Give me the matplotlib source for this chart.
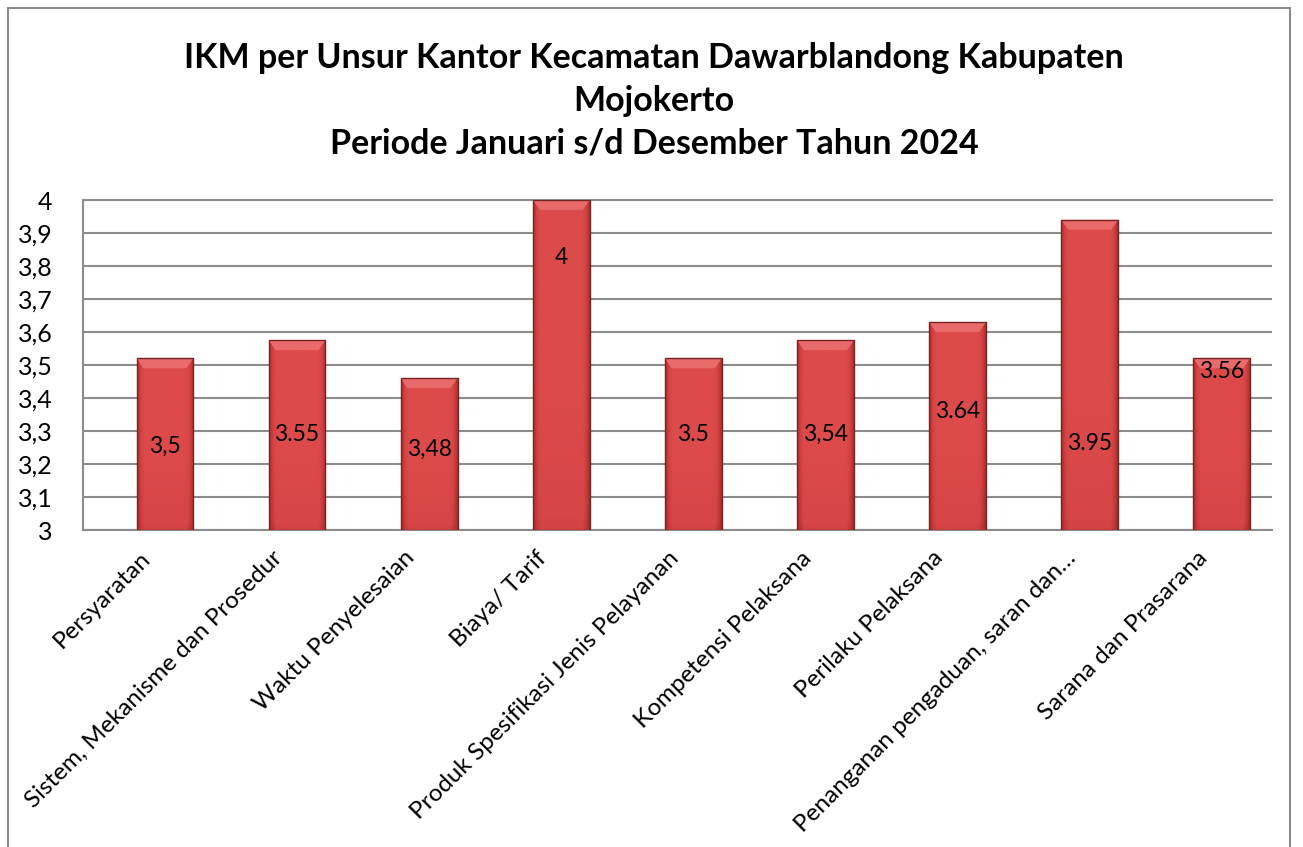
import matplotlib
matplotlib.use("Agg")
import matplotlib.pyplot as plt
import matplotlib.transforms as mtransforms
import numpy as np
from matplotlib.patches import Rectangle, Polygon
from matplotlib.colors import LinearSegmentedColormap

categories = ["Persyaratan", "Sistem, Mekanisme dan Prosedur", "Waktu Penyelesaian",
              "Biaya/ Tarif", "Produk Spesifikasi Jenis Pelayanan", "Kompetensi Pelaksana",
              "Perilaku Pelaksana", "Penanganan pengaduan, saran dan…", "Sarana dan Prasarana"]
values = [3.52, 3.575, 3.46, 4.0, 3.52, 3.575, 3.63, 3.94, 3.52]
labels = ["3,5", "3.55", "3,48", "4", "3.5", "3,54", "3.64", "3.95", "3.56"]
label_y = [3.255, 3.29, 3.243, 3.825, 3.29, 3.29, 3.36, 3.263, 3.48]
yticks = [3, 3.1, 3.2, 3.3, 3.4, 3.5, 3.6, 3.7, 3.8, 3.9, 4]
yticklabels = ["3", "3,1", "3,2", "3,3", "3,4", "3,5", "3,6", "3,7", "3,8", "3,9", "4"]

plt.rcParams['font.family'] = ['Lato', 'DejaVu Sans']

fig = plt.figure(figsize=(13.03, 8.47), dpi=100)
ax = fig.add_axes([83/1303, 1 - 530/847, (1272-83)/1303, 330/847])

x = np.arange(len(categories))
bars = ax.bar(x, [v - 3 for v in values], bottom=3, width=0.43,
              color="#c83c3c", edgecolor="none", linewidth=0, zorder=3)

cmap = LinearSegmentedColormap.from_list("r", ["#8a2626", "#b83434", "#d44444", "#dc4a4a"])
nx = 64
gx = np.linspace(0, 1, nx)
prof = np.clip(1 - np.maximum(0, np.abs(gx - 0.5) * 2 - 0.75) * 3.0, 0, 1)
for b in bars:
    x0, y0 = b.get_x(), b.get_y()
    w, h = b.get_width(), b.get_height()
    vy = np.linspace(0, 1, 128)
    vert = 0.76 + 0.24 * np.clip(vy / 0.45, 0, 1)
    vert = np.where(vy < 0.03, vert * 0.85, vert)
    img = prof[None, :] * vert[:, None]
    im = ax.imshow(img, cmap=cmap, vmin=0.0, vmax=1.0, aspect='auto',
                   extent=[x0, x0 + w, y0, y0 + h], origin='lower', zorder=3.5,
                   interpolation='bilinear')
    im.set_clip_path(b)
    bh = 0.03
    ax.add_patch(Polygon([(x0, y0 + h), (x0 + w, y0 + h), (x0 + w * 0.88, y0 + h - bh),
                          (x0 + w * 0.12, y0 + h - bh)], closed=True,
                         facecolor="#e86a6a", edgecolor="none", zorder=3.6))
    ax.add_patch(Rectangle((x0, y0), w, h, facecolor="none",
                           edgecolor="#7a2222", linewidth=1.0, zorder=3.8))

for xi, lab, ly in zip(x, labels, label_y):
    ax.text(xi, ly, lab, ha="center", va="center", fontsize=16.5, color="black", zorder=5)

ax.set_xlim(-0.62, 8.38)
ax.set_ylim(3, 4)
ax.set_yticks(yticks)
ax.set_yticklabels(yticklabels, fontsize=18)
ax.yaxis.grid(True, color="#8c8c8c", linewidth=1.5, zorder=0)
ax.set_axisbelow(True)
ax.tick_params(axis='y', length=0, pad=22)
ax.tick_params(axis='x', length=0, pad=8)
ax.set_xticks(x)
ax.set_xticklabels(categories, rotation=45, ha="right", rotation_mode="anchor", fontsize=17.5)
offset = mtransforms.ScaledTranslation(-25/100, -6/100, fig.dpi_scale_trans)
for lbl in ax.get_xticklabels():
    lbl.set_transform(lbl.get_transform() + offset)
ax.spines["right"].set_visible(False)
for s in ["left", "top", "bottom"]:
    ax.spines[s].set_color("#8c8c8c")
    ax.spines[s].set_linewidth(1.5)

fig.text(654/1303, 1 - 101/847,
         "IKM per Unsur Kantor Kecamatan Dawarblandong Kabupaten\nMojokerto\nPeriode Januari s/d Desember Tahun 2024",
         ha="center", va="center", fontsize=24.5, fontweight="bold", linespacing=1.42)

fig.add_artist(Rectangle((8/1303, -0.01), (1290-8)/1303, 1 - 8/847 + 0.01,
                         transform=fig.transFigure, facecolor="none",
                         edgecolor="#8c8c8c", linewidth=1.5))

fig.savefig("out.png", dpi=100)
